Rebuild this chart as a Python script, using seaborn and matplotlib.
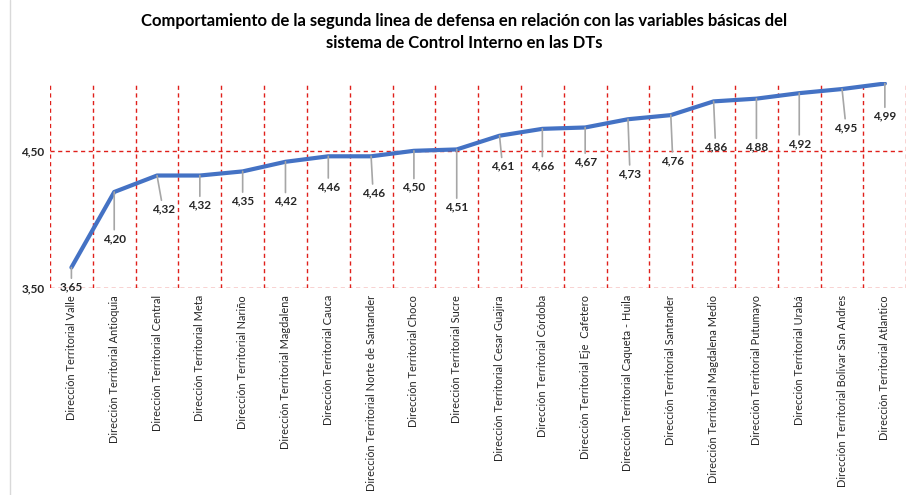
import matplotlib
matplotlib.use("Agg")
import matplotlib.pyplot as plt
import numpy as np
import pandas as pd
import seaborn as sns

# data
dts = [
    "Dirección Territorial Valle",
    "Dirección Territorial Antioquia",
    "Dirección Territorial Central",
    "Dirección Territorial Meta",
    "Dirección Territorial Nariño",
    "Dirección Territorial Magdalena",
    "Dirección Territorial Cauca",
    "Dirección Territorial Norte de Santander",
    "Dirección Territorial Choco",
    "Dirección Territorial Sucre",
    "Dirección Territorial Cesar Guajira",
    "Dirección Territorial Córdoba",
    "Dirección Territorial Eje  Cafetero",
    "Dirección Territorial Caqueta - Huila",
    "Dirección Territorial Santander",
    "Dirección Territorial Magdalena Medio",
    "Dirección Territorial Putumayo",
    "Dirección Territorial Urabá",
    "Dirección Territorial Bolivar San Andres",
    "Dirección Territorial Atlantico",
]
scores = [3.65, 4.20, 4.32, 4.32, 4.35, 4.42, 4.46, 4.46, 4.50, 4.51,
          4.61, 4.66, 4.67, 4.73, 4.76, 4.86, 4.88, 4.92, 4.95, 4.99]
y_ticks = [3.5, 4.5]

# label offsets below each point (pixels), mimic the leader lines of the original
label_dx = [0, 0, 6, 0, 0, 0, 0, 2, 0, 0, 3, 0, 0, 2, 2, 2, 0, 0, 4, 0]
label_dy = [14, 41, 28, 24, 24, 34, 25, 31, 31, 52, 25, 31, 29, 49, 40, 40, 43, 45, 33, 27]

df = pd.DataFrame({"dt": dts, "score": scores})
df["pos"] = np.arange(len(df))

sns.set_theme(style="white")
plt.rcParams["font.family"] = ["Lato", "DejaVu Sans"]

fig = plt.figure(figsize=(9.09, 4.95), dpi=100)
ax = fig.add_axes([0.055, 0.418, 0.942, 0.416])

grid_red = "#E0201B"
n = len(dts)
for b in np.arange(n + 1) - 0.5:
    ax.plot([b, b], [3.5, 5.0], ls=(0, (3, 2.5)), color=grid_red, lw=1, zorder=1)
for yv in y_ticks:
    ax.plot([-0.5, n - 0.5], [yv, yv], ls=(0, (3, 2.5)), color=grid_red, lw=1, zorder=1)

sns.lineplot(data=df, x="pos", y="score", color="#4472C4", lw=3, ax=ax, zorder=3)

for i, row in df.iterrows():
    ax.annotate(f"{row['score']:.2f}".replace(".", ","),
                xy=(row["pos"], row["score"]),
                xytext=(label_dx[i], -label_dy[i]), textcoords="offset pixels",
                ha="center", va="top", fontsize=8.5, fontweight="bold", color="#262626",
                arrowprops=dict(arrowstyle="-", color="#A6A6A6", lw=1.2,
                                shrinkA=0, shrinkB=0),
                zorder=4)

ax.set_xlim(-0.5, n - 0.5)
ax.set_ylim(3.5, 5.0)
ax.set_xticks(df["pos"])
ax.set_xticklabels(dts, rotation=90, fontsize=7.9, color="#262626", va="top")
ax.set_yticks(y_ticks)
ax.set_yticklabels([f"{v:.2f}".replace(".", ",") for v in y_ticks],
                   fontsize=8.5, fontweight="bold", color="#262626")
ax.tick_params(axis="y", length=0, pad=4)
ax.tick_params(axis="x", length=0, pad=5)
ax.set_xlabel("")
ax.set_ylabel("")
sns.despine(ax=ax, left=True, bottom=True)

fig.text(0.511, 0.935,
         "Comportamiento de la segunda linea de defensa en relación con las variables básicas del\n"
         "sistema de Control Interno en las DTs",
         ha="center", va="center", fontsize=12, fontweight="bold", color="#000000",
         linespacing=1.45)

# light frame of the original chart area
fig.add_artist(plt.Line2D([0.011, 0.011], [0.0, 1.0], color="#D9D9D9", lw=1))

fig.savefig("out.png", dpi=100)
